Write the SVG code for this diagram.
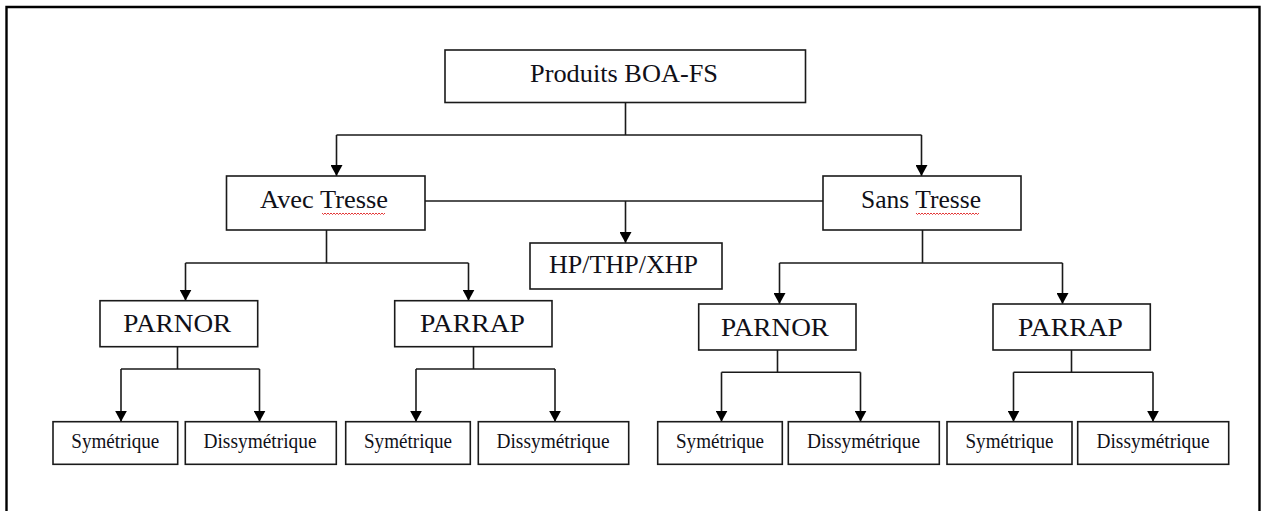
<svg xmlns="http://www.w3.org/2000/svg" width="1261" height="511" viewBox="0 0 1261 511">
  <style>
    .box { fill: #ffffff; stroke: #1a1a1a; stroke-width: 1.6; }
    .lbl { font-family: "Liberation Serif", "Times New Roman", serif; fill: #101018; text-anchor: middle; }
    .big { font-size: 26px; }
    .small { font-size: 20px; }
    .wire { fill: none; stroke: #1a1a1a; stroke-width: 1.6; }
    .arrow { fill: none; stroke: #1a1a1a; stroke-width: 1.6; marker-end: url(#head); }
    .squiggle { fill: none; stroke: #e02020; stroke-width: 0.9; }
  </style>
  <defs>
    <!-- filled triangular head, pointing along the path direction -->
    <marker id="head" viewBox="0 0 11 12" refX="11" refY="6" markerWidth="11" markerHeight="12" markerUnits="userSpaceOnUse" orient="auto">
      <path d="M0,0 L11,6 L0,12 Z" fill="#000000"/>
    </marker>
  </defs>

  <rect width="1261" height="511" fill="#ffffff"/>
  <!-- outer frame -->
  <path d="M6.5,520 V7 H1259.5 V520" fill="none" stroke="#000000" stroke-width="2.4"/>

  <!-- connectors -->
  <g id="connectors">
    <!-- root to second level -->
    <path class="wire" d="M625.5,102.5 V135 M336.5,135 H921.5"/>
    <path class="arrow" d="M336.5,135 V176"/>
    <path class="arrow" d="M921.5,135 V176"/>
    <!-- shared branch to HP/THP/XHP -->
    <path class="wire" d="M425,201 H823"/>
    <path class="arrow" d="M625.5,201 V243"/>
    <!-- Avec Tresse to PARNOR / PARRAP -->
    <path class="wire" d="M326.5,230 V263 M185.5,263 H468.5"/>
    <path class="arrow" d="M185.5,263 V300.7"/>
    <path class="arrow" d="M468.5,263 V300.7"/>
    <!-- Sans Tresse to PARNOR / PARRAP -->
    <path class="wire" d="M922.5,230 V263 M779.5,263 H1062.5"/>
    <path class="arrow" d="M779.5,263 V304"/>
    <path class="arrow" d="M1062.5,263 V304"/>
    <!-- left PARNOR -->
    <path class="wire" d="M177.5,346.7 V369 M121,369 H259.5"/>
    <path class="arrow" d="M121,369 V421.7"/>
    <path class="arrow" d="M259.5,369 V421.7"/>
    <!-- left PARRAP -->
    <path class="wire" d="M473.5,346.7 V369 M416,369 H555"/>
    <path class="arrow" d="M416,369 V421.7"/>
    <path class="arrow" d="M555,369 V421.7"/>
    <!-- right PARNOR -->
    <path class="wire" d="M777.5,350 V372.3 M721.5,372.3 H860.5"/>
    <path class="arrow" d="M721.5,372.3 V421.7"/>
    <path class="arrow" d="M860.5,372.3 V421.7"/>
    <!-- right PARRAP -->
    <path class="wire" d="M1071.5,350 V372.3 M1013.5,372.3 H1153"/>
    <path class="arrow" d="M1013.5,372.3 V421.7"/>
    <path class="arrow" d="M1153,372.3 V421.7"/>
  </g>

  <!-- level 0 -->
  <g id="produits">
    <rect class="box" x="445" y="50" width="360.5" height="52.5"/>
    <text class="lbl big" x="624" y="82" textLength="188" lengthAdjust="spacingAndGlyphs">Produits BOA-FS</text>
  </g>

  <!-- level 1 -->
  <g id="avec-tresse">
    <rect class="box" x="226.5" y="176" width="198.5" height="54"/>
    <text class="lbl big" x="324" y="208" textLength="128" lengthAdjust="spacingAndGlyphs">Avec Tresse</text>
    <path class="squiggle" d="M322,213 l1.5,1.5 l1.5,-1.5 l1.5,1.5 l1.5,-1.5 l1.5,1.5 l1.5,-1.5 l1.5,1.5 l1.5,-1.5 l1.5,1.5 l1.5,-1.5 l1.5,1.5 l1.5,-1.5 l1.5,1.5 l1.5,-1.5 l1.5,1.5 l1.5,-1.5 l1.5,1.5 l1.5,-1.5 l1.5,1.5 l1.5,-1.5 l1.5,1.5 l1.5,-1.5 l1.5,1.5 l1.5,-1.5 l1.5,1.5 l1.5,-1.5 l1.5,1.5 l1.5,-1.5 l1.5,1.5 l1.5,-1.5 l1.5,1.5 l1.5,-1.5 l1.5,1.5 l1.5,-1.5 l1.5,1.5 l1.5,-1.5 l1.5,1.5 l1.5,-1.5 l1.5,1.5 l1.5,-1.5 l1.5,1.5 l1.5,-1.5"/>
  </g>
  <g id="sans-tresse">
    <rect class="box" x="823" y="176" width="198" height="54"/>
    <text class="lbl big" x="921" y="208" textLength="120" lengthAdjust="spacingAndGlyphs">Sans Tresse</text>
    <path class="squiggle" d="M916,213 l1.5,1.5 l1.5,-1.5 l1.5,1.5 l1.5,-1.5 l1.5,1.5 l1.5,-1.5 l1.5,1.5 l1.5,-1.5 l1.5,1.5 l1.5,-1.5 l1.5,1.5 l1.5,-1.5 l1.5,1.5 l1.5,-1.5 l1.5,1.5 l1.5,-1.5 l1.5,1.5 l1.5,-1.5 l1.5,1.5 l1.5,-1.5 l1.5,1.5 l1.5,-1.5 l1.5,1.5 l1.5,-1.5 l1.5,1.5 l1.5,-1.5 l1.5,1.5 l1.5,-1.5 l1.5,1.5 l1.5,-1.5 l1.5,1.5 l1.5,-1.5 l1.5,1.5 l1.5,-1.5 l1.5,1.5 l1.5,-1.5 l1.5,1.5 l1.5,-1.5 l1.5,1.5 l1.5,-1.5 l1.5,1.5 l1.5,-1.5"/>
  </g>
  <g id="hp-thp-xhp">
    <rect class="box" x="530" y="243" width="192" height="46"/>
    <text class="lbl big" x="623.5" y="273" textLength="149" lengthAdjust="spacingAndGlyphs">HP/THP/XHP</text>
  </g>

  <!-- level 2 -->
  <g id="parnor-avec">
    <rect class="box" x="100" y="300.7" width="157.7" height="46"/>
    <text class="lbl big" x="177.3" y="332" textLength="108" lengthAdjust="spacingAndGlyphs">PARNOR</text>
  </g>
  <g id="parrap-avec">
    <rect class="box" x="394.7" y="300.7" width="157.3" height="46"/>
    <text class="lbl big" x="472.5" y="332" textLength="105" lengthAdjust="spacingAndGlyphs">PARRAP</text>
  </g>
  <g id="parnor-sans">
    <rect class="box" x="698.7" y="304" width="157.3" height="46"/>
    <text class="lbl big" x="775" y="335.5" textLength="108" lengthAdjust="spacingAndGlyphs">PARNOR</text>
  </g>
  <g id="parrap-sans">
    <rect class="box" x="993" y="304" width="157.3" height="46"/>
    <text class="lbl big" x="1070.5" y="335.5" textLength="105" lengthAdjust="spacingAndGlyphs">PARRAP</text>
  </g>

  <!-- level 3 -->
  <g id="sym-1">
    <rect class="box" x="53" y="421.7" width="124.7" height="42.6"/>
    <text class="lbl small" x="115.3" y="448.3" textLength="88" lengthAdjust="spacingAndGlyphs">Symétrique</text>
  </g>
  <g id="dissym-1">
    <rect class="box" x="185.3" y="421.7" width="151" height="42.6"/>
    <text class="lbl small" x="260" y="448.3" textLength="113" lengthAdjust="spacingAndGlyphs">Dissymétrique</text>
  </g>
  <g id="sym-2">
    <rect class="box" x="345.7" y="421.7" width="124.6" height="42.6"/>
    <text class="lbl small" x="408" y="448.3" textLength="88" lengthAdjust="spacingAndGlyphs">Symétrique</text>
  </g>
  <g id="dissym-2">
    <rect class="box" x="478.3" y="421.7" width="150.4" height="42.6"/>
    <text class="lbl small" x="553" y="448.3" textLength="113" lengthAdjust="spacingAndGlyphs">Dissymétrique</text>
  </g>
  <g id="sym-3">
    <rect class="box" x="657.7" y="421.7" width="124.6" height="42.6"/>
    <text class="lbl small" x="720" y="448.3" textLength="88" lengthAdjust="spacingAndGlyphs">Symétrique</text>
  </g>
  <g id="dissym-3">
    <rect class="box" x="788.3" y="421.7" width="151" height="42.6"/>
    <text class="lbl small" x="863.5" y="448.3" textLength="113" lengthAdjust="spacingAndGlyphs">Dissymétrique</text>
  </g>
  <g id="sym-4">
    <rect class="box" x="947" y="421.7" width="125" height="42.6"/>
    <text class="lbl small" x="1009.5" y="448.3" textLength="88" lengthAdjust="spacingAndGlyphs">Symétrique</text>
  </g>
  <g id="dissym-4">
    <rect class="box" x="1077.7" y="421.7" width="151" height="42.6"/>
    <text class="lbl small" x="1153" y="448.3" textLength="113" lengthAdjust="spacingAndGlyphs">Dissymétrique</text>
  </g>
</svg>
